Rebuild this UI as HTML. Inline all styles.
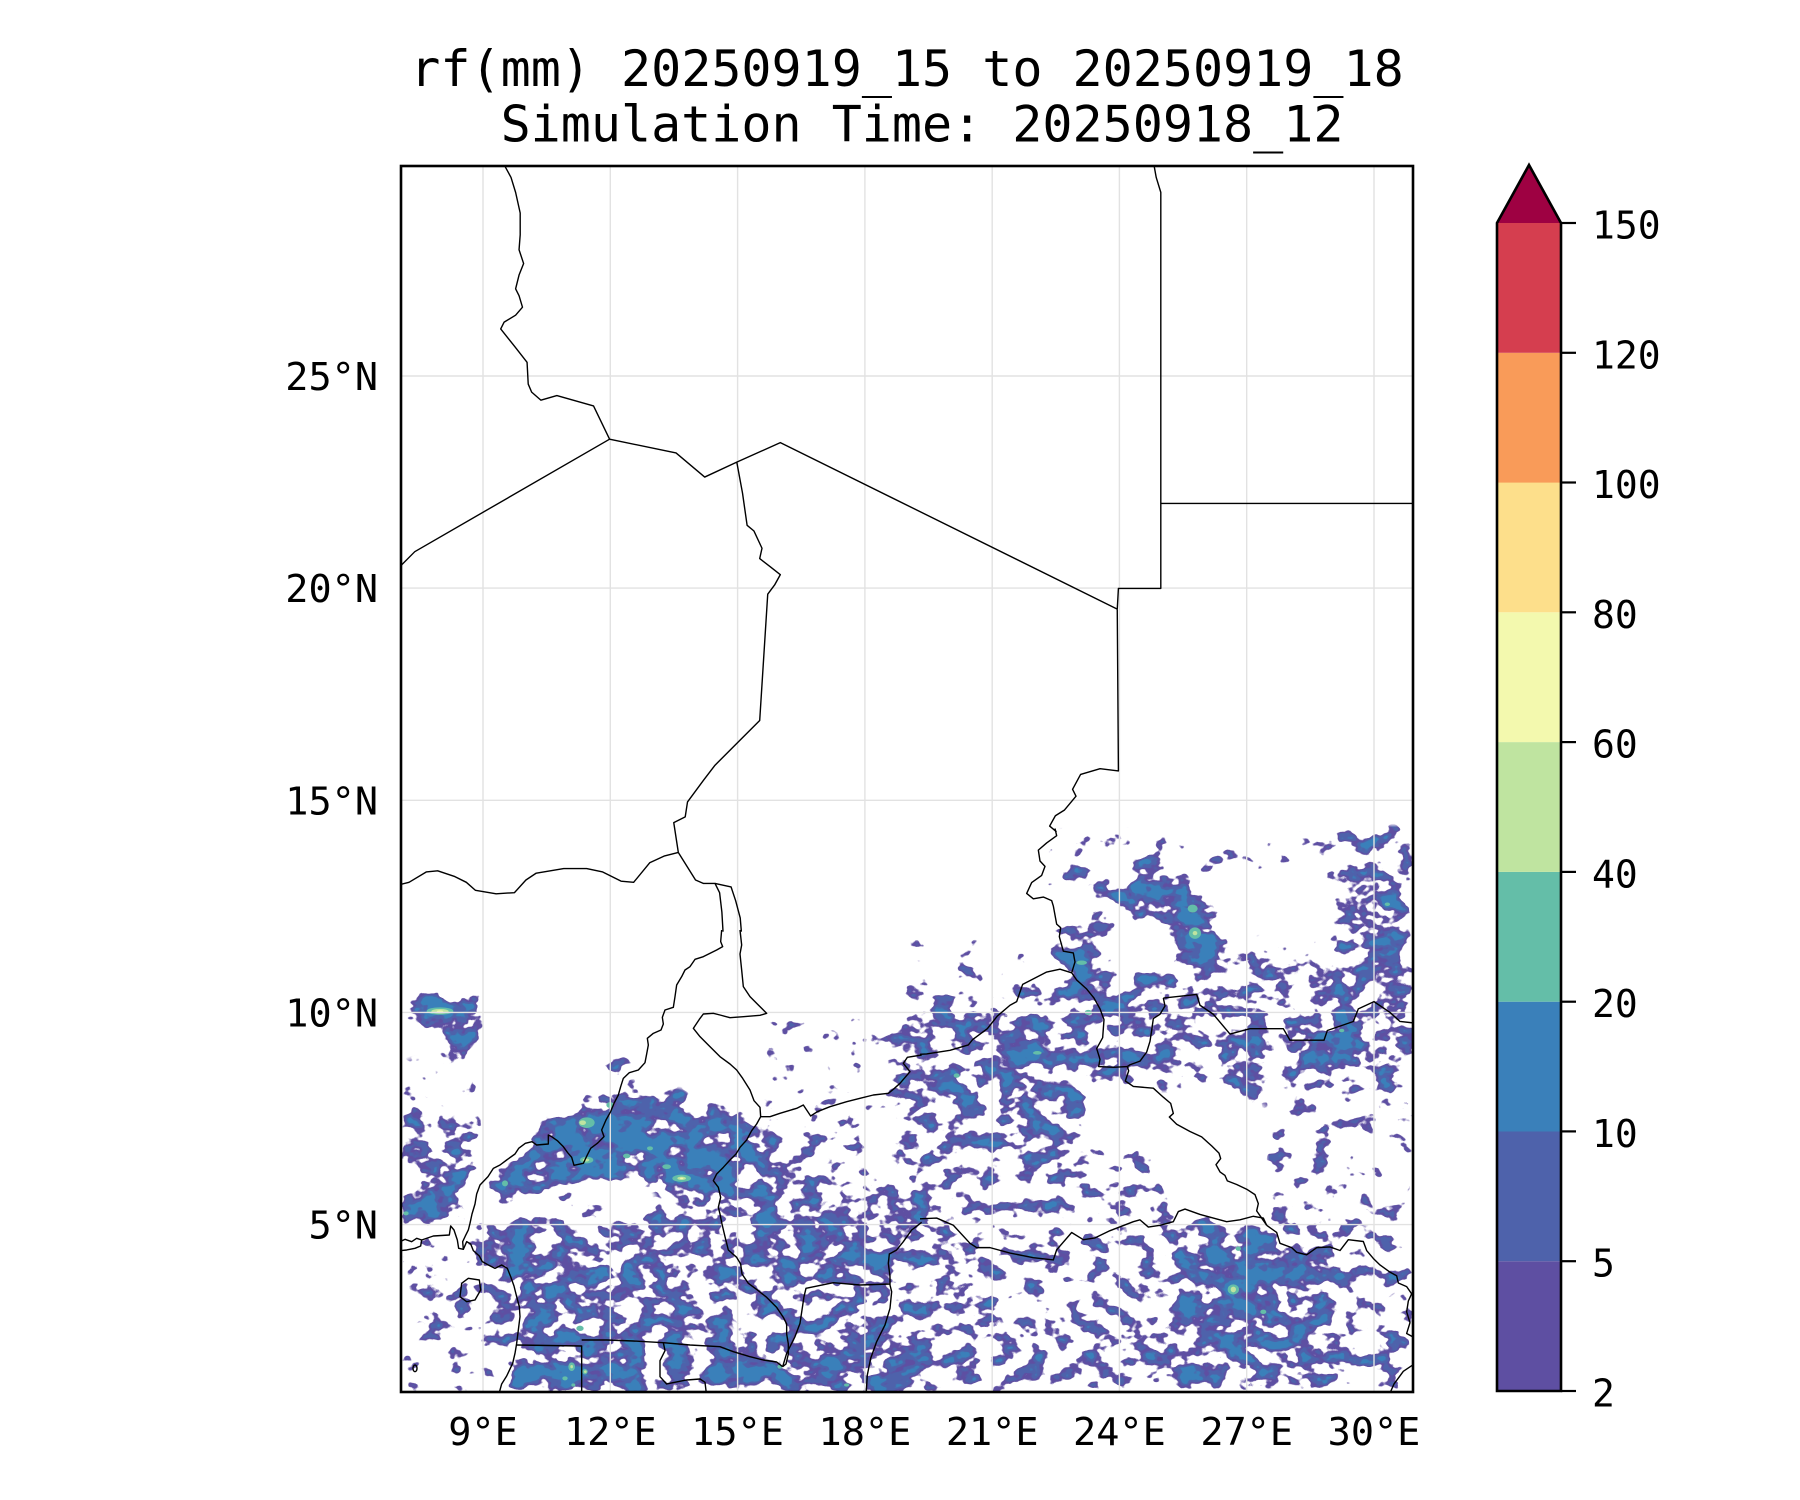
<!DOCTYPE html>
<html><head><meta charset="utf-8"><style>
html,body{margin:0;padding:0;background:#fff;}
svg{display:block;}
text{font-family:"DejaVu Sans Mono","Liberation Mono",monospace;fill:#000;}
.bd{fill:none;stroke:#000;stroke-width:1.4;stroke-linejoin:round;vector-effect:non-scaling-stroke;}
</style></head><body>
<svg width="1800" height="1500" viewBox="0 0 1800 1500" xmlns="http://www.w3.org/2000/svg">
<defs>
<clipPath id="ax"><rect x="401" y="166" width="1012" height="1226"/></clipPath>
<filter id="rain" filterUnits="userSpaceOnUse" x="401" y="166" width="1012" height="1226" color-interpolation-filters="sRGB">
<feColorMatrix in="SourceGraphic" type="matrix" values="0 0 0 0 0  0 0 0 0 0  0 0 0 0 0  1 0 0 0 0" result="Da"/>
<feGaussianBlur in="Da" stdDeviation="7" result="D"/>
<feComponentTransfer in="D" result="M"><feFuncA type="linear" slope="10" intercept="-1.2"/></feComponentTransfer>
<feTurbulence type="fractalNoise" baseFrequency="0.045 0.06" numOctaves="3" seed="5" result="T"/>
<feColorMatrix in="T" type="matrix" values="0 0 0 0 0  0 0 0 0 0  0 0 0 0 0  1 0 0 0 0" result="N"/>
<feComposite in="D" in2="N" operator="arithmetic" k1="0" k2="0.6" k3="0.8" k4="-0.2" result="V"/>
<feComponentTransfer in="V" result="m1"><feFuncA type="linear" slope="30" intercept="-15"/></feComponentTransfer>
<feFlood flood-color="#5e4fa2" result="c1"/>
<feComposite in="c1" in2="m1" operator="in" result="l1"/>
<feComponentTransfer in="V" result="m2"><feFuncA type="linear" slope="30" intercept="-17.1"/></feComponentTransfer>
<feFlood flood-color="#4e62ab" result="c2"/>
<feComposite in="c2" in2="m2" operator="in" result="l2"/>
<feComponentTransfer in="V" result="m3"><feFuncA type="linear" slope="30" intercept="-19.8"/></feComponentTransfer>
<feFlood flood-color="#3a80ba" result="c3"/>
<feComposite in="c3" in2="m3" operator="in" result="l3"/>
<feMerge result="all"><feMergeNode in="l1"/><feMergeNode in="l2"/><feMergeNode in="l3"/></feMerge>
<feComposite in="all" in2="M" operator="in"/>
</filter>
</defs>
<rect x="0" y="0" width="1800" height="1500" fill="#fff"/>

<g clip-path="url(#ax)">
<g filter="url(#rain)">
<rect x="401" y="166" width="1012" height="1226" fill="#000"/>
<!-- level 0.28 -->
<g fill="#474747">
<g transform="translate(400 930) scale(0.33333)">
<path d="M1100,250 L1560,240 L1560,420 L1300,520 L1090,560 L1080,400 Z"/>
<path d="M0,380 L250,380 L250,515 L0,515 Z"/>
<path d="M380,780 L650,770 L650,880 L380,880 Z"/>
</g>
<g transform="translate(900 828.5) scale(0.33333 0.3607)">
<path d="M400,0 L650,0 L650,280 L400,280 Z"/>
<path d="M0,300 L400,300 L400,470 L0,470 Z"/>
<path d="M620,0 L1290,0 L1290,140 L620,140 Z"/>
</g>
</g>
<!-- level 0.34 -->
<g fill="#575757">
<g transform="translate(400 930) scale(0.33333)">
<path d="M1090,560 L1300,520 L1560,420 L1560,770 L1300,780 L1240,760 L1200,640 L1100,620 Z"/>
<path d="M0,925 L150,915 L200,940 L240,980 L300,1015 L330,1100 L355,1200 L340,1300 L295,1395 L0,1395 Z"/>
</g>
<g transform="translate(900 828.5) scale(0.33333 0.3607)">
<path d="M1100,700 L1545,700 L1545,1100 L1100,1080 Z"/>
<path d="M980,300 L1300,300 L1300,450 L980,450 Z"/>
</g>
</g>
<!-- level 0.42 -->
<g fill="#6b6b6b">
<g transform="translate(900 828.5) scale(0.33333 0.3607)">
<path d="M0,880 L800,880 L800,1560 L0,1560 Z"/>
<path d="M1100,1080 L1545,1100 L1545,1560 L1100,1560 Z"/>
</g>
</g>
<!-- level 0.48 -->
<g fill="#7a7a7a">
<g transform="translate(900 828.5) scale(0.33333 0.3607)">
<path d="M0,1100 L280,1100 L280,1330 L0,1330 Z"/>
<path d="M0,1380 L1545,1380 L1545,1560 L0,1560 Z"/>
</g>
</g>
<!-- level 0.52 -->
<g fill="#858585">
<g transform="translate(400 930) scale(0.33333)">
<path d="M0,515 L110,512 L145,540 L250,555 L262,640 L245,700 L235,790 L100,795 L0,795 Z"/>
<path d="M460,880 L650,880 L800,800 L960,800 L985,920 L1015,1000 L1065,1080 L1140,1160 L1160,1250 L540,1240 L520,1100 L480,1000 Z"/>
<path d="M1040,640 L1100,622 L1200,642 L1240,762 L1300,782 L1560,762 L1560,1395 L800,1395 L790,1250 L1150,1250 L1100,1100 L1030,1040 L980,950 L960,850 L990,760 Z"/>
</g>
<g transform="translate(900 828.5) scale(0.33333 0.3607)">
<path d="M0,460 L300,470 L470,420 L560,420 L560,900 L0,900 Z"/>
<path d="M520,420 L1120,430 L1140,560 L1100,720 L680,720 L560,700 Z"/>
<path d="M1140,380 L1545,360 L1545,720 L1150,720 Z"/>
<path d="M1290,0 L1545,0 L1545,360 L1300,380 Z"/>
</g>
</g>
<!-- level 0.58 -->
<g fill="#949494">
<g transform="translate(400 930) scale(0.33333)">
<path d="M480,1000 L800,990 L860,1240 L520,1240 Z"/>
<path d="M1000,700 L1500,780 L1500,1060 L1050,1050 L990,900 Z"/>
</g>
<g transform="translate(900 828.5) scale(0.33333 0.3607)">
<path d="M460,260 L640,260 L640,430 L460,430 Z"/>
<path d="M800,1080 L1300,1090 L1300,1560 L800,1560 Z"/>
</g>
</g>
<!-- level 0.62 -->
<g fill="#9e9e9e">
<g transform="translate(400 930) scale(0.33333)">
<path d="M540,1235 L800,1240 L800,1395 L545,1395 Z"/>
<path d="M800,1240 L1560,1240 L1560,1395 L800,1395 Z"/>
</g>
</g>
<!-- level 0.66 -->
<g fill="#a8a8a8">
<g transform="translate(400 930) scale(0.33333)">
<path d="M232,880 L300,860 L380,858 L460,900 L480,1000 L520,1100 L560,1200 L545,1240 L360,1245 L352,1200 L290,1205 L268,1160 L330,1120 L330,1050 L300,1010 L262,1008 L240,980 L232,950 Z"/>
<path d="M0,640 L40,630 L90,650 L100,700 L60,720 L0,720 Z"/>
<path d="M140,1082 L180,1060 L240,1052 L252,1090 L232,1132 L180,1137 L140,1125 Z"/>
<path d="M1020,820 L1100,800 L1140,850 L1120,900 L1060,920 L1020,880 Z"/>
<path d="M1050,950 L1120,940 L1180,970 L1170,1020 L1100,1030 L1060,1000 Z"/>
<path d="M1230,850 L1300,830 L1370,860 L1360,920 L1280,930 L1240,900 Z"/>
<path d="M1380,960 L1440,950 L1480,980 L1460,1030 L1400,1030 Z"/>
<path d="M1480,820 L1540,800 L1560,810 L1560,900 L1520,890 Z"/>
<path d="M600,900 L660,880 L700,920 L670,960 L620,950 Z"/>
<path d="M540,980 L600,970 L640,1010 L600,1050 L550,1030 Z"/>
<path d="M700,1100 L780,1090 L820,1130 L780,1170 L710,1160 Z"/>
<path d="M850,960 L900,950 L930,990 L890,1020 L850,1000 Z"/>
<ellipse cx="5" cy="95" rx="28" ry="32"/>
</g>
<g transform="translate(900 828.5) scale(0.33333 0.3607)">
<path d="M490,110 L520,95 L555,105 L585,130 L615,150 L600,162 L560,150 L530,130 L500,128 Z"/>
<path d="M540,460 L600,440 L640,450 L700,440 L720,460 L705,500 L660,520 L620,510 L590,530 L560,520 L545,490 Z"/>
<path d="M620,580 L680,600 L720,620 L700,650 L640,660 L610,640 Z"/>
<path d="M760,500 L800,490 L810,520 L780,540 L760,530 Z"/>
<path d="M640,545 L690,535 L710,560 L680,580 L650,575 Z"/>
<path d="M110,670 L170,660 L215,680 L230,720 L200,740 L150,745 L120,730 Z"/>
<path d="M300,600 L360,560 L420,540 L460,550 L470,600 L440,650 L400,670 L360,690 L320,680 L300,640 Z"/>
<path d="M320,720 L380,730 L410,760 L380,790 L330,780 Z"/>
<path d="M420,690 L480,700 L530,720 L540,760 L500,770 L450,740 Z"/>
<path d="M340,820 L420,810 L480,830 L500,860 L460,880 L400,870 L360,860 Z"/>
<path d="M240,520 L290,500 L320,520 L300,550 L260,560 Z"/>
<path d="M60,780 L110,770 L130,800 L100,820 L60,815 Z"/>
<path d="M1140,585 L1200,565 L1280,545 L1340,530 L1380,520 L1420,530 L1450,560 L1440,600 L1400,640 L1340,655 L1285,648 L1230,690 L1172,685 L1150,645 Z"/>
<path d="M1100,570 L1140,560 L1160,600 L1130,620 L1100,610 Z"/>
<path d="M1000,620 L1050,610 L1080,650 L1060,680 L1010,680 Z"/>
<path d="M1010,700 L1060,690 L1090,720 L1070,760 L1020,760 Z"/>
<path d="M990,330 L1010,325 L1030,345 L1020,360 L995,355 Z"/>
<ellipse cx="1090" cy="372" rx="40" ry="18"/>
<ellipse cx="1145" cy="392" rx="40" ry="16"/>
<ellipse cx="1270" cy="410" rx="40" ry="16"/>
<path d="M1370,180 L1420,170 L1430,200 L1400,220 L1375,205 Z"/>
<path d="M1320,250 L1360,240 L1400,260 L1390,280 L1340,275 Z"/>
<ellipse cx="1450" cy="80" rx="25" ry="20"/>
<ellipse cx="1510" cy="530" rx="40" ry="40"/>
<path d="M820,1330 L900,1320 L960,1340 L1000,1360 L960,1380 L880,1380 L830,1370 Z"/>
<path d="M860,1440 L960,1420 L1040,1430 L1050,1470 L1000,1490 L900,1490 L860,1470 Z"/>
<path d="M880,1500 L960,1495 L1000,1520 L960,1545 L890,1540 Z"/>
<path d="M1150,1230 L1200,1220 L1230,1260 L1200,1290 L1160,1280 Z"/>
</g>
</g>
<!-- level 0.74 -->
<g fill="#bdbdbd">
<g transform="translate(400 930) scale(0.33333)">
<path d="M5,160 L40,152 L70,165 L95,172 L100,192 L140,200 L185,198 L235,192 L250,215 L240,235 L245,270 L238,300 L245,340 L245,365 L210,372 L185,392 L150,410 L130,405 L148,370 L130,345 L118,320 L100,300 L70,292 L55,270 L20,255 L5,250 Z"/>
<path d="M548,460 L575,450 L598,462 L590,476 L560,478 Z"/>
<path d="M575,425 L620,405 L665,385 L698,385 L702,410 L682,435 L640,445 L600,442 Z"/>
<path d="M400,585 L440,570 L500,548 L540,532 L560,505 L620,492 L655,472 L700,468 L760,488 L805,495 L850,480 L862,500 L835,522 L900,522 L960,510 L992,528 L1010,560 L1035,562 L1072,582 L1100,602 L1092,642 L1062,662 L1052,702 L1042,742 L1012,762 L1000,790 L960,800 L930,790 L880,800 L830,795 L790,780 L750,762 L700,748 L670,762 L640,752 L600,742 L570,752 L530,772 L480,762 L450,790 L430,800 L400,790 L388,762 L370,752 L342,772 L340,830 L318,830 L290,800 L262,772 L252,742 L275,722 L300,706 L340,682 L370,652 L385,622 Z"/>
<path d="M0,780 L60,775 L120,790 L180,800 L210,830 L200,870 L150,882 L80,880 L0,890 Z"/>
<path d="M350,1250 L545,1250 L545,1395 L300,1395 L330,1330 L345,1280 Z"/>
<path d="M550,1290 L620,1280 L700,1300 L720,1360 L690,1395 L550,1395 Z"/>
<path d="M940,1250 L1000,1265 L1150,1300 L1200,1330 L1200,1395 L900,1395 L920,1360 Z"/>
<path d="M1230,1280 L1320,1270 L1390,1300 L1380,1370 L1300,1395 L1240,1380 L1220,1330 Z"/>
<path d="M1420,1290 L1500,1300 L1560,1290 L1560,1395 L1420,1395 Z"/>
</g>
<g transform="translate(900 828.5) scale(0.33333 0.3607)">
<path d="M630,140 L680,150 L700,110 L720,75 L745,55 L772,62 L775,100 L795,130 L830,150 L870,165 L905,182 L935,205 L945,245 L930,290 L975,305 L980,345 L965,380 L980,405 L940,418 L900,405 L870,412 L845,392 L830,345 L822,305 L795,275 L760,262 L700,252 L668,242 L640,218 L625,180 Z"/>
<path d="M700,400 L760,390 L820,400 L842,432 L812,448 L760,445 L712,425 Z"/>
<path d="M1430,185 L1470,180 L1500,200 L1505,240 L1480,275 L1455,270 L1435,240 Z"/>
<path d="M1485,275 L1530,270 L1545,290 L1545,330 L1510,335 L1480,310 Z"/>
<path d="M1420,330 L1470,320 L1500,350 L1530,370 L1545,410 L1520,420 L1490,400 L1460,395 L1430,380 Z"/>
<path d="M500,290 L560,285 L590,310 L575,350 L590,380 L570,410 L530,420 L505,400 L520,360 L495,330 Z"/>
<path d="M940,1110 L1000,1100 L1050,1110 L1080,1140 L1130,1170 L1160,1230 L1150,1280 L1110,1300 L1100,1340 L1120,1380 L1080,1400 L1040,1380 L1000,1400 L960,1370 L920,1330 L900,1280 L920,1240 L950,1200 L930,1160 Z"/>
</g>
</g>
<!-- level 0.84 cores -->
<g fill="#d6d6d6">
<g transform="translate(400 930) scale(0.33333)">
<path d="M420,645 L470,622 L520,612 L560,602 L600,582 L650,562 L700,600 L760,632 L820,662 L880,690 L950,700 L990,722 L970,762 L900,772 L840,772 L780,742 L720,722 L660,712 L600,722 L550,722 L500,717 L450,702 L420,682 Z"/>
<path d="M600,500 L650,480 L665,520 L640,560 L610,560 L585,540 Z"/>
<ellipse cx="110" cy="235" rx="90" ry="30"/>
<ellipse cx="320" cy="770" rx="50" ry="35"/>
<ellipse cx="60" cy="840" rx="45" ry="22"/>
<ellipse cx="330" cy="980" rx="40" ry="55"/>
<ellipse cx="480" cy="1320" rx="55" ry="55"/>
<ellipse cx="1060" cy="1320" rx="45" ry="18"/>
</g>
<g transform="translate(900 828.5) scale(0.33333 0.3607)">
<path d="M650,190 L700,175 L740,200 L760,240 L720,255 L670,240 Z"/>
<path d="M830,190 L890,190 L920,230 L915,300 L890,330 L850,330 L830,280 Z"/>
<ellipse cx="1465" cy="215" rx="25" ry="22"/>
<ellipse cx="1510" cy="305" rx="22" ry="17"/>
<ellipse cx="155" cy="700" rx="40" ry="28"/>
<ellipse cx="390" cy="610" rx="45" ry="28"/>
<ellipse cx="1330" cy="560" rx="45" ry="18"/>
<ellipse cx="1020" cy="1210" rx="50" ry="70"/>
<ellipse cx="990" cy="1280" rx="40" ry="25"/>
</g>
</g>
</g>

<!-- high-value spots -->
<g transform="translate(400 930) scale(0.33333)">
<g fill="#64bea8">
<ellipse cx="560" cy="578" rx="24" ry="16"/>
<ellipse cx="560" cy="690" rx="20" ry="10"/>
<ellipse cx="845" cy="745" rx="28" ry="11"/>
<ellipse cx="315" cy="760" rx="9" ry="9"/>
<ellipse cx="630" cy="525" rx="11" ry="9"/>
<ellipse cx="800" cy="710" rx="13" ry="7"/>
<ellipse cx="680" cy="678" rx="11" ry="7"/>
<ellipse cx="750" cy="655" rx="9" ry="6"/>
<ellipse cx="120" cy="243" rx="40" ry="11"/>
<ellipse cx="18" cy="850" rx="8" ry="6"/>
<ellipse cx="540" cy="1195" rx="11" ry="8"/>
<ellipse cx="515" cy="1310" rx="10" ry="13"/>
<ellipse cx="495" cy="1345" rx="8" ry="6"/>
<ellipse cx="520" cy="1365" rx="6" ry="5"/>
<ellipse cx="555" cy="1325" rx="8" ry="8"/>
<ellipse cx="1140" cy="1310" rx="8" ry="6"/>
<ellipse cx="1340" cy="1365" rx="8" ry="5"/>
</g>
<g fill="#bfe4a0">
<ellipse cx="845" cy="745" rx="13" ry="5"/>
<ellipse cx="558" cy="690" rx="10" ry="5"/>
<ellipse cx="548" cy="578" rx="10" ry="7"/>
<ellipse cx="120" cy="244" rx="26" ry="7"/>
<ellipse cx="515" cy="1310" rx="4" ry="5"/>
<ellipse cx="556" cy="1325" rx="4" ry="4"/>
</g>
<g fill="#f3f9ae">
<ellipse cx="845" cy="745" rx="5" ry="2"/>
<ellipse cx="556" cy="690" rx="4" ry="2"/>
<ellipse cx="120" cy="244" rx="10" ry="3"/>
</g>
</g>
<g transform="translate(900 828.5) scale(0.33333 0.3607)">
<g fill="#64bea8">
<ellipse cx="878" cy="222" rx="15" ry="11"/>
<ellipse cx="885" cy="290" rx="18" ry="16"/>
<ellipse cx="1462" cy="210" rx="8" ry="5"/>
<ellipse cx="545" cy="372" rx="16" ry="6"/>
<ellipse cx="565" cy="510" rx="11" ry="7"/>
<ellipse cx="170" cy="685" rx="9" ry="6"/>
<ellipse cx="412" cy="622" rx="13" ry="5"/>
<ellipse cx="1325" cy="560" rx="8" ry="5"/>
<ellipse cx="1000" cy="1278" rx="17" ry="14"/>
<ellipse cx="1090" cy="1340" rx="9" ry="6"/>
<ellipse cx="1015" cy="1165" rx="8" ry="6"/>
</g>
<g fill="#bfe4a0">
<ellipse cx="885" cy="290" rx="7" ry="6"/>
<ellipse cx="1000" cy="1278" rx="8" ry="8"/>
</g>
</g>

<!-- gridlines -->
<g stroke="#e2e2e2" stroke-width="1.4" fill="none">
<line x1="483" y1="166" x2="483" y2="1392"/>
<line x1="610.3" y1="166" x2="610.3" y2="1392"/>
<line x1="737.6" y1="166" x2="737.6" y2="1392"/>
<line x1="864.9" y1="166" x2="864.9" y2="1392"/>
<line x1="992.2" y1="166" x2="992.2" y2="1392"/>
<line x1="1119.4" y1="166" x2="1119.4" y2="1392"/>
<line x1="1246.7" y1="166" x2="1246.7" y2="1392"/>
<line x1="1374" y1="166" x2="1374" y2="1392"/>
<line x1="401" y1="376" x2="1413" y2="376"/>
<line x1="401" y1="588.1" x2="1413" y2="588.1"/>
<line x1="401" y1="800.3" x2="1413" y2="800.3"/>
<line x1="401" y1="1012.4" x2="1413" y2="1012.4"/>
<line x1="401" y1="1224.6" x2="1413" y2="1224.6"/>
</g>

<!-- borders: upper (display frame) -->
<g transform="translate(2.2 -0.5) scale(1.146 1.148)">
<path class="bd" d="M348,493 L360,481 L530,383"/>
<path class="bd" d="M530,383 L516,354 L484,345 L470,349 L462,342 L459,335 L458,316 L447,302 L435,287 L438,281 L448,275 L454,268 L451,258 L448,252 L451,240 L455,230 L451,218 L452,205 L452,186 L448,168 L444,155 L438,144"/>
<path class="bd" d="M530,383 L588,395 L613,416 L641,403 L679,386 L973,531"/>
<path class="bd" d="M641,403 L646,430 L650,458 L656,463 L663,478 L661,487 L670,494 L679,501 L674,510 L668,518 L661,628 L643,646 L622,667 L612,680 L598,699 L596,712 L586,717 L590,743"/>
<path class="bd" d="M590,743 L578,746 L565,752 L551,769 L540,768 L524,760 L510,757 L490,757 L466,761 L457,767 L447,778 L431,779 L413,776 L405,769 L395,764 L380,759 L370,760 L355,769 L347,771"/>
<path class="bd" d="M590,743 L605,767 L612,770 L622,770 L626,778 L628,795 L629,812"/>
<path class="bd" d="M622,770 L636,773 L640,785 L644,800 L645,812"/>
<path class="bd" d="M973,531 L974,672 L958,670 L941,675 L934,688 L937,694 L927,706 L919,711 L914,720 L920,725"/>
<path class="bd" d="M1005,144 L1007,155 L1011,168 L1011,513 L974,513 L973,531"/>
<path class="bd" d="M1011,439 L1232,439"/>
</g>

<!-- borders: Z10 -->
<g transform="translate(400 930) scale(0.33333)">
<path class="bd" d="M965,0 L962,35 L968,50 L950,60 L910,80 L885,88 L870,110 L855,120 L845,140 L830,165 L825,200 L820,232 L795,240 L787,262 L790,282 L783,300 L760,310 L742,325 L745,345 L740,372 L735,398 L715,420 L688,428 L670,445 L662,470 L655,495 L642,520 L632,545 L618,570 L605,600 L612,620 L592,640 L572,655 L562,675 L550,700 L522,706 L515,682 L503,668 L490,650 L472,632 L455,620 L445,615 L445,642 L410,645 L396,635 L376,640 L356,655 L345,672 L320,690 L300,705 L280,715 L264,740 L240,765 L230,792 L225,822 L216,852 L210,880 L205,900 L196,918 L188,935 L190,958"/>
<path class="bd" d="M0,935 L15,928 L35,935 L50,925 L65,930 L62,948 L45,955 L20,960 L0,962"/>
<path class="bd" d="M65,930 L100,918 L148,915 L152,888 L162,900 L172,930 L176,955 L190,958 L200,935 L212,942 L220,962 L238,978 L247,995 L265,1005 L285,1015 L305,1005 L322,1015 L332,1040 L342,1068 L350,1100 L358,1130 L360,1160 L355,1200 L350,1240 L345,1270 L338,1300 L320,1338 L305,1362 L295,1398"/>
<path class="bd" d="M185,1060 L205,1045 L238,1050 L242,1080 L225,1110 L200,1115 L180,1100 Z"/>
<ellipse class="bd" cx="45" cy="1315" rx="6" ry="10"/>
<path class="bd" d="M1020,0 L1025,45 L1020,72 L1025,120 L1030,170 L1050,200 L1075,225 L1100,250 L1080,256 L1030,260 L990,263 L960,255 L940,250 L910,252 L898,268 L880,295 L900,320 L925,345 L960,380 L990,402 L1010,420 L1028,445 L1050,480 L1062,512 L1080,532 L1082,560 L1070,582 L1055,602 L1040,630 L1020,652 L1008,672 L990,690 L970,712 L950,732 L940,752 L955,772 L962,802 L955,832 L960,852 L966,882 L975,920 L985,960 L1010,982 L1022,1002 L1026,1032 L1045,1060 L1072,1080 L1100,1102 L1130,1132 L1150,1162 L1160,1182 L1160,1212 L1165,1242 L1165,1272 L1158,1302 L1148,1310"/>
<path class="bd" d="M1082,560 L1110,560 L1140,550 L1190,535 L1210,525 L1232,558 L1252,545 L1290,530 L1340,515 L1380,505 L1420,495 L1465,490 L1480,478 L1500,460 L1530,425 L1510,400 L1522,382 L1565,375"/>
<path class="bd" d="M350,1245 L545,1248 L545,1398"/>
<path class="bd" d="M545,1230 L620,1230 L700,1233 L790,1238 L870,1245 L960,1250 L1000,1265 L1050,1280 L1090,1290 L1130,1296 L1148,1310"/>
<path class="bd" d="M790,1238 L795,1262 L780,1292 L780,1340 L800,1362 L860,1350 L900,1347 L915,1357 L920,1398"/>
<path class="bd" d="M1148,1310 L1160,1270 L1185,1220 L1200,1180 L1212,1100 L1218,1075 L1300,1058 L1380,1065 L1470,1062"/>
<path class="bd" d="M1565,877 L1535,900 L1510,935 L1490,960 L1468,972 L1465,1000 L1470,1040 L1470,1065 L1475,1085 L1470,1135 L1455,1185 L1430,1235 L1412,1285 L1402,1335 L1398,1398"/>
</g>

<!-- borders: Z11 -->
<g transform="translate(900 828.5) scale(0.33333 0.3607)">
<path class="bd" d="M465,0 L470,20 L440,40 L415,60 L420,90 L435,105 L425,130 L395,150 L380,180 L400,195 L430,190 L455,200 L460,215 L465,240 L470,265 L482,275 L478,300 L490,340 L520,345 L525,370 L515,400 L530,420 L560,445 L582,470 L600,500 L612,530 L608,580 L590,610 L600,640 L596,660 L640,662 L682,660"/>
<path class="bd" d="M60,626 L80,625 L150,615 L205,600 L218,585 L262,555 L292,520 L330,490 L350,480 L368,432 L440,398 L480,390 L515,400"/>
<path class="bd" d="M790,470 L890,460 L900,490 L940,515 L990,570 L1050,555 L1150,555 L1170,587 L1272,587 L1282,560 L1360,535 L1375,500 L1422,480 L1470,510 L1500,535 L1550,540"/>
<path class="bd" d="M790,470 L795,492 L780,515 L760,527 L755,560 L750,590 L740,620 L720,645 L690,655 L682,660"/>
<path class="bd" d="M682,660 L686,672 L676,700 L700,715 L760,720 L790,745 L812,762 L820,790 L808,800 L830,820 L870,840 L905,855 L935,880 L957,900 L962,915 L948,932 L960,952 L975,962 L982,977 L1010,987 L1040,1000 L1065,1015 L1075,1040 L1070,1060 L1085,1080 L1100,1100"/>
<path class="bd" d="M1100,1100 L1130,1120 L1140,1150 L1175,1162 L1190,1175 L1220,1182 L1250,1162 L1290,1160 L1320,1170 L1345,1140 L1390,1145 L1400,1170 L1420,1192 L1440,1210 L1470,1230 L1490,1240 L1495,1260 L1520,1270 L1535,1290 L1525,1310 L1520,1340 L1530,1370 L1520,1400 L1550,1415"/>
<path class="bd" d="M60,1082 L110,1080 L160,1100 L210,1150 L230,1162 L270,1162 L330,1177 L400,1190 L460,1196 L470,1168 L515,1120 L550,1140 L585,1135 L630,1115 L700,1090 L720,1085 L745,1105 L780,1100 L820,1090 L835,1062 L855,1055 L900,1070 L940,1080 L980,1090 L1020,1085 L1060,1075 L1090,1080 L1100,1100"/>
<path class="bd" d="M1550,1480 L1510,1505 L1482,1540 L1470,1565"/>
</g>
</g>

<!-- axes frame -->
<rect x="401" y="166" width="1012" height="1226" fill="none" stroke="#000" stroke-width="2.6"/>

<!-- lon labels -->
<g font-size="38.5" text-anchor="middle">
<text x="483" y="1445">9°E</text>
<text x="610.3" y="1445">12°E</text>
<text x="737.6" y="1445">15°E</text>
<text x="864.9" y="1445">18°E</text>
<text x="992.2" y="1445">21°E</text>
<text x="1119.4" y="1445">24°E</text>
<text x="1246.7" y="1445">27°E</text>
<text x="1374" y="1445">30°E</text>
</g>
<!-- lat labels -->
<g font-size="38.5" text-anchor="end">
<text x="378" y="390">25°N</text>
<text x="378" y="602">20°N</text>
<text x="378" y="814.3">15°N</text>
<text x="378" y="1026.4">10°N</text>
<text x="378" y="1238.6">5°N</text>
</g>

<!-- colorbar -->
<g>
<rect x="1497" y="1261.2" width="64" height="129.8" fill="#5e4fa2"/>
<rect x="1497" y="1131.4" width="64" height="129.8" fill="#4e62ab"/>
<rect x="1497" y="1001.7" width="64" height="129.8" fill="#3a80ba"/>
<rect x="1497" y="871.9" width="64" height="129.8" fill="#64bea8"/>
<rect x="1497" y="742.1" width="64" height="129.8" fill="#bfe4a0"/>
<rect x="1497" y="612.3" width="64" height="129.8" fill="#f3f9ae"/>
<rect x="1497" y="482.5" width="64" height="129.8" fill="#fddf8b"/>
<rect x="1497" y="352.8" width="64" height="129.8" fill="#f99b59"/>
<rect x="1497" y="223" width="64" height="129.8" fill="#d53e4f"/>
<path d="M1497,223 L1529,165 L1561,223 Z" fill="#9e0142"/>
<path d="M1497,1391 L1497,223 L1529,165 L1561,223 L1561,1391 Z" fill="none" stroke="#000" stroke-width="2.6" stroke-linejoin="miter"/>
<g stroke="#000" stroke-width="2.2">
<line x1="1561" y1="1391" x2="1576" y2="1391"/>
<line x1="1561" y1="1261.2" x2="1576" y2="1261.2"/>
<line x1="1561" y1="1131.4" x2="1576" y2="1131.4"/>
<line x1="1561" y1="1001.7" x2="1576" y2="1001.7"/>
<line x1="1561" y1="871.9" x2="1576" y2="871.9"/>
<line x1="1561" y1="742.1" x2="1576" y2="742.1"/>
<line x1="1561" y1="612.3" x2="1576" y2="612.3"/>
<line x1="1561" y1="482.5" x2="1576" y2="482.5"/>
<line x1="1561" y1="352.8" x2="1576" y2="352.8"/>
<line x1="1561" y1="223" x2="1576" y2="223"/>
</g>
<g font-size="38">
<text x="1592" y="1406.5">2</text>
<text x="1592" y="1276.7">5</text>
<text x="1592" y="1146.9">10</text>
<text x="1592" y="1017.2">20</text>
<text x="1592" y="887.4">40</text>
<text x="1592" y="757.6">60</text>
<text x="1592" y="627.8">80</text>
<text x="1592" y="498">100</text>
<text x="1592" y="368.3">120</text>
<text x="1592" y="238.5">150</text>
</g>
</g>

<!-- title -->
<g font-size="50" text-anchor="middle">
<text x="907" y="86">rf(mm) 20250919_15 to 20250919_18</text>
<text x="922" y="141.5">Simulation Time: 20250918_12</text>
</g>
</svg>
</body></html>
